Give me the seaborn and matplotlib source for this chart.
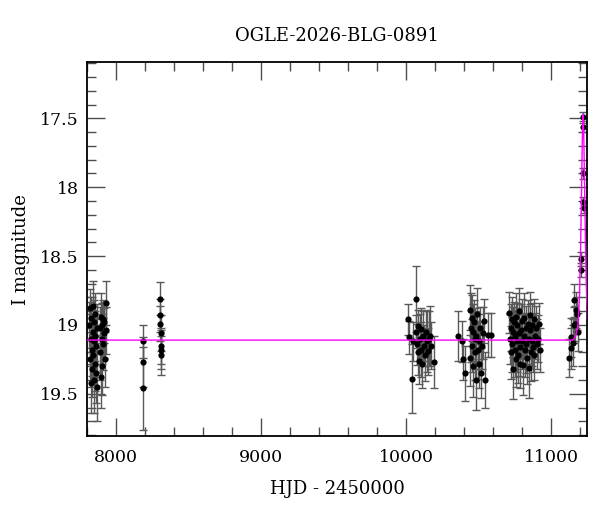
import matplotlib
matplotlib.use("Agg")
import matplotlib.pyplot as plt
from matplotlib.ticker import MultipleLocator, FuncFormatter
import seaborn as sns
import numpy as np
import pandas as pd

# photometry: HJD-2450000, I mag, error (season by season)
hjd_s1 = [7815, 7818, 7822, 7825, 7828, 7830, 7833, 7836, 7838, 7841, 7843, 7846, 7848, 7851,
          7853, 7856, 7858, 7861, 7864, 7866, 7869, 7888, 7892, 7895, 7898, 7900, 7903, 7906,
          7910, 7913, 7917, 7920, 7925, 7928, 7932]
mag_s1 = [19.00, 19.25, 18.88, 19.10, 19.42, 18.95, 19.18, 19.32, 19.05, 18.86, 19.22, 19.40, 19.12, 18.98,
          19.28, 19.08, 18.92, 19.35, 19.15, 19.02, 19.45, 19.02, 19.20, 18.94, 19.38, 19.10, 19.00, 19.30,
          18.96, 19.14, 19.06, 18.98, 19.25, 18.84, 19.04]
err_s1 = [0.17, 0.20, 0.14, 0.18, 0.22, 0.15, 0.19, 0.20, 0.16, 0.18, 0.21, 0.24, 0.17, 0.16,
          0.20, 0.18, 0.15, 0.22, 0.19, 0.17, 0.25, 0.15, 0.20, 0.17, 0.22, 0.18, 0.16, 0.21,
          0.14, 0.19, 0.18, 0.15, 0.20, 0.16, 0.17]

hjd_s2 = [8188, 8188, 8189, 8303, 8305, 8306, 8307, 8308, 8309, 8310]
mag_s2 = [19.12, 19.27, 19.46, 18.81, 18.93, 18.99, 19.06, 19.15, 19.18, 19.22]
err_s2 = [0.12, 0.18, 0.30, 0.12, 0.12, 0.13, 0.13, 0.13, 0.14, 0.14]

hjd_s3 = [10016, 10022, 10039, 10045, 10069, 10066, 10072, 10080, 10085, 10090, 10095, 10100,
          10106, 10112, 10118, 10125, 10130, 10138, 10145, 10150, 10158, 10165, 10172, 10195]
mag_s3 = [18.96, 19.09, 19.39, 19.12, 18.81, 19.05, 19.14, 19.01, 19.20, 19.26, 19.10, 19.03,
          19.18, 19.28, 19.08, 19.15, 19.22, 19.05, 19.12, 19.19, 19.10, 19.08, 19.15, 19.27]
err_s3 = [0.11, 0.12, 0.25, 0.14, 0.24, 0.12, 0.15, 0.12, 0.16, 0.17, 0.18, 0.15,
          0.20, 0.18, 0.18, 0.15, 0.19, 0.16, 0.22, 0.17, 0.20, 0.22, 0.17, 0.19]

hjd_s4 = [10356, 10384, 10393, 10407, 10441, 10443, 10448, 10452, 10456, 10460, 10464, 10468,
          10472, 10476, 10480, 10485, 10490, 10495, 10500, 10505, 10510, 10516, 10522, 10530,
          10540, 10545, 10568, 10586]
mag_s4 = [19.08, 19.12, 19.25, 19.35, 18.89, 19.24, 19.02, 18.95, 19.15, 19.30, 19.05, 18.98,
          19.20, 19.10, 19.40, 19.08, 18.92, 19.18, 19.28, 19.12, 19.02, 19.35, 19.15, 19.06,
          18.97, 19.40, 19.07, 19.07]
err_s4 = [0.18, 0.15, 0.15, 0.20, 0.18, 0.20, 0.25, 0.17, 0.19, 0.22, 0.20, 0.16,
          0.20, 0.22, 0.22, 0.18, 0.19, 0.21, 0.18, 0.20, 0.15, 0.18, 0.17, 0.19,
          0.16, 0.20, 0.16, 0.16]

hjd_s5 = [10712, 10716, 10720, 10724, 10728, 10732, 10736, 10740, 10744, 10748, 10752, 10756,
          10760, 10764, 10768, 10772, 10776, 10780, 10784, 10788, 10792, 10796, 10800, 10805,
          10810, 10815, 10820, 10825, 10830, 10835, 10840, 10844, 10848, 10852, 10856, 10860,
          10865, 10870, 10875, 10880, 10885, 10890, 10895, 10900, 10908, 10915, 10920]
mag_s5 = [18.91, 19.10, 19.02, 19.20, 18.96, 19.14, 19.05, 19.32, 18.98, 19.18, 19.08, 19.25,
          18.94, 19.12, 19.00, 19.22, 19.06, 18.90, 19.16, 19.28, 19.04, 18.97, 19.12, 19.29,
          19.08, 18.95, 19.18, 19.02, 19.14, 19.24, 18.99, 19.31, 19.10, 19.04, 18.93, 19.20,
          19.12, 19.00, 19.16, 18.96, 19.22, 19.08, 19.02, 19.14, 19.10, 18.99, 19.18]
err_s5 = [0.15, 0.18, 0.17, 0.19, 0.16, 0.20, 0.18, 0.22, 0.15, 0.20, 0.19, 0.20,
          0.17, 0.22, 0.16, 0.20, 0.18, 0.17, 0.21, 0.18, 0.19, 0.16, 0.20, 0.22,
          0.17, 0.18, 0.20, 0.16, 0.21, 0.19, 0.17, 0.22, 0.18, 0.19, 0.17, 0.21,
          0.18, 0.16, 0.18, 0.15, 0.18, 0.17, 0.16, 0.18, 0.17, 0.15, 0.16]

hjd_s6 = [11120, 11136, 11138, 11154, 11158, 11161, 11165, 11170, 11179, 11183,
          11204, 11205, 11218, 11218, 11222, 11223, 11224]
mag_s6 = [19.24, 19.17, 19.09, 19.13, 19.00, 18.82, 18.99, 18.89, 18.92, 19.05,
          18.52, 18.60, 17.49, 17.56, 17.90, 18.11, 18.15]
err_s6 = [0.14, 0.15, 0.14, 0.17, 0.13, 0.12, 0.13, 0.13, 0.12, 0.14,
          0.05, 0.05, 0.04, 0.04, 0.04, 0.04, 0.04]

# model curve
model_hjd = [7800, 11150, 11170, 11185, 11195, 11203, 11210, 11215, 11220, 11225, 11230, 11236, 11242, 11250]
model_mag = [19.11, 19.11, 19.08, 19.00, 18.80, 18.45, 18.00, 17.65, 17.47, 17.62, 17.95, 18.35, 18.70, 18.96]

phot = pd.DataFrame({
    "hjd": hjd_s1 + hjd_s2 + hjd_s3 + hjd_s4 + hjd_s5 + hjd_s6,
    "mag": mag_s1 + mag_s2 + mag_s3 + mag_s4 + mag_s5 + mag_s6,
    "err": err_s1 + err_s2 + err_s3 + err_s4 + err_s5 + err_s6,
})
model = pd.DataFrame({"hjd": model_hjd, "mag": model_mag})

sns.set_theme(style="ticks")
plt.rcParams['font.family'] = ['DejaVu Serif']
plt.rcParams['text.color'] = 'black'
plt.rcParams['axes.labelcolor'] = 'black'

fig = plt.figure(figsize=(6, 5.12), dpi=100)
ax = fig.add_axes([0.145, 0.1475, 0.834, 0.7315])

ax.errorbar(phot["hjd"], phot["mag"], yerr=phot["err"], fmt='none',
            ecolor='0.35', elinewidth=1, capsize=3, capthick=1, zorder=2)
sns.scatterplot(data=phot, x="hjd", y="mag", color='black', s=20,
                edgecolor='black', linewidth=0, ax=ax, zorder=3)
sns.lineplot(data=model, x="hjd", y="mag", color='#ff00ff', lw=1,
             estimator=None, sort=False, ax=ax, zorder=4)

ax.set_xlim(7800, 11250)
ax.set_ylim(19.81, 17.09)

ax.xaxis.set_major_locator(MultipleLocator(1000))
ax.xaxis.set_minor_locator(MultipleLocator(200))
ax.yaxis.set_major_locator(MultipleLocator(0.5))
ax.yaxis.set_minor_locator(MultipleLocator(0.1))
ax.yaxis.set_major_formatter(FuncFormatter(lambda v, p: f'{v:g}'))
ax.xaxis.set_major_formatter(FuncFormatter(lambda v, p: f'{v:g}'))

ax.tick_params(which='both', direction='in', top=True, right=True,
               color='0.3', labelsize=12.5, labelcolor='black')
ax.tick_params(which='major', length=13, width=1)
ax.tick_params(which='minor', length=6.5, width=1)
ax.tick_params(axis='y', pad=6)
ax.tick_params(axis='x', pad=9)
for sp in ax.spines.values():
    sp.set_linewidth(1.3)
    sp.set_color('black')

ax.set_xlabel('HJD - 2450000', fontsize=13, labelpad=10)
ax.set_ylabel('I magnitude', fontsize=13, labelpad=7)
ax.set_title('OGLE-2026-BLG-0891', fontsize=13, pad=15)

plt.savefig('out.png', dpi=100)
